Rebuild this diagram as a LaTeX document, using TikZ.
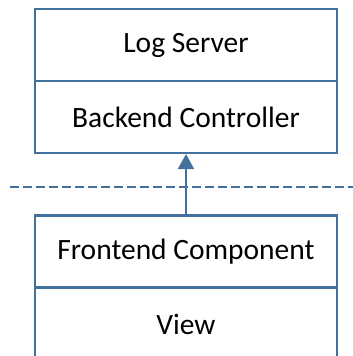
\documentclass[tikz,border=0pt]{standalone}
\usepackage{fontspec}
\setmainfont{Carlito}
\usetikzlibrary{arrows.meta}
\definecolor{edge}{HTML}{41719C}
\begin{document}
\begin{tikzpicture}[x=1pt,y=1pt,
  part/.style={draw=edge,line width=2.2pt,minimum width=302pt,minimum height=72pt,inner sep=0pt,font=\fontsize{29.5}{32}\selectfont},
  link/.style={draw=edge,line width=2.2pt,-{Triangle[width=16pt,length=15pt]}},
  border/.style={draw=edge,line width=1.2pt,dash pattern=on 9pt off 4pt}]
\useasboundingbox (0,0) rectangle (353,356);
\clip (0,0) rectangle (353,356);
\node[part] (log) at (186,311) {Log Server};
\node[part] (backend) at (186,239) {Backend Controller};
\node[part] (frontend) at (186,104.5) {Frontend Component};
\node[part,minimum height=100pt,anchor=north] (view) at (186,69) {};
\node[font=\fontsize{29.5}{32}\selectfont] (viewtext) at (186,32) {View};
\coordinate (dl) at (10,169);
\coordinate (dr) at (353,169);
\draw[border] (dl) -- (dr);
\draw[link] (frontend.north) -- (backend.south);
\end{tikzpicture}
\end{document}
